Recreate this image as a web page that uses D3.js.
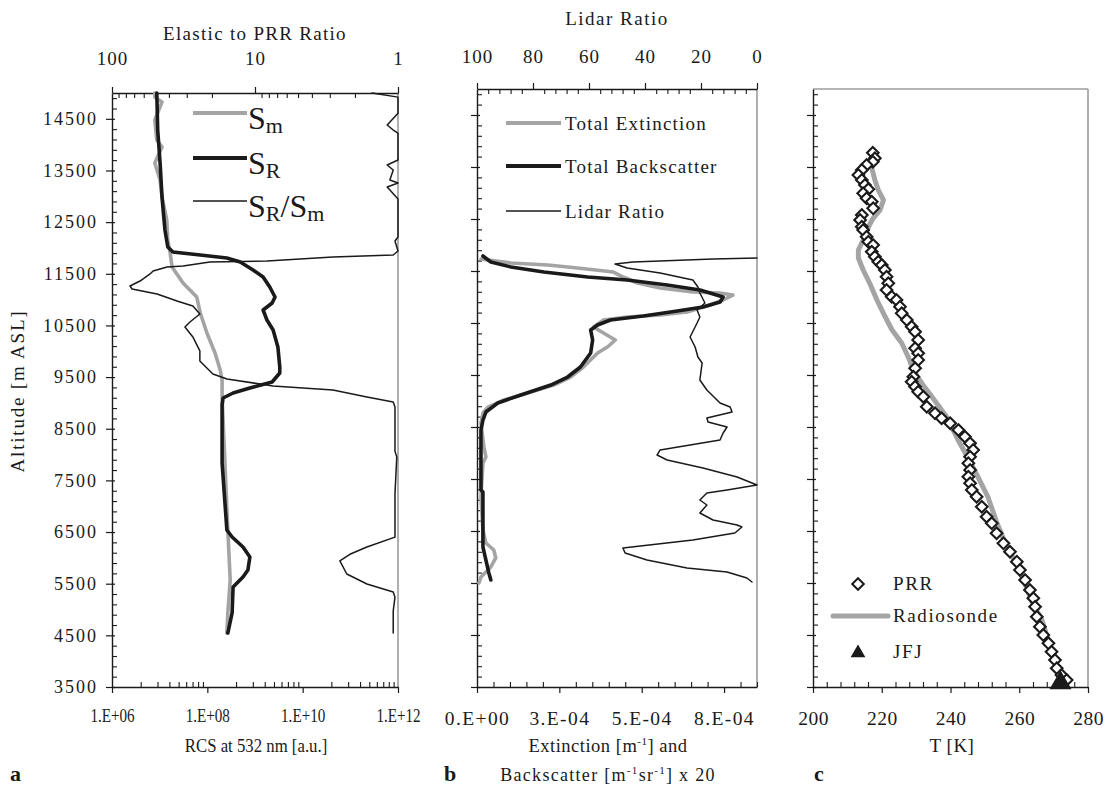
<!DOCTYPE html>
<html>
<head>
<meta charset="utf-8">
<script src="https://cdn.jsdelivr.net/npm/d3@7"></script>
<style>
  body { margin: 0; background: #fff; }
  svg { display: block; }
  svg text { font-family: 'Liberation Serif', 'Times New Roman', Times, serif !important; fill: #1a1a1a; }
</style>
</head>
<body>
<svg id="chart" width="1105" height="785"></svg>
<script>
// ---- donnees : [altitude m, valeur] ----

// panneau a : RCS a 532 nm (u.a.)
const smProfile = [[15000,7.9e6],[14920,7.9e6],[14825,1.12e7],[14477,7.9e6],[14090,8.7e6],[13954,1.12e7],[13645,7.9e6],[13316,1.02e7],[12986,1.12e7],[12541,1.41e7],[12154,1.48e7],[11902,1.66e7],[11631,1.82e7],[11321,3.09e7],[11050,6.0e7],[10741,7.1e7],[10353,9.8e7],[9966,1.45e8],[9637,1.86e8],[9444,2.04e8],[9114,2.04e8],[7837,2.34e8],[6540,2.69e8],[5572,3.02e8],[4933,2.69e8],[4545,2.57e8]];
const srProfile = [[15000,8.7e6],[14283,9.1e6],[13645,1.02e7],[12986,1.12e7],[12348,1.29e7],[12018,1.48e7],[11922,1.9e7],[11863,7.1e7],[11805,2.57e8],[11728,4.9e8],[11573,9.1e8],[11438,1.48e9],[11244,2.04e9],[11050,2.63e9],[10934,2.29e9],[10799,1.48e9],[10605,1.78e9],[10412,2.4e9],[10082,3.02e9],[9695,3.31e9],[9579,3.31e9],[9405,2.29e9],[9289,7.8e8],[9192,3.47e8],[9095,2.14e8],[8960,2.04e8],[7837,2.04e8],[6540,2.57e8],[6404,3.31e8],[6210,5.6e8],[6017,7.8e8],[5765,7.1e8],[5630,5.6e8],[5436,3.47e8],[4933,3.31e8],[4545,2.69e8]];
// rapport elastique / PRR (axe du haut)
const ratioProfile = [[15000,1.52],[14920,1.0],[14610,1.0],[14380,1.19],[14283,1.08],[14225,1.0],[13703,1.0],[13606,1.19],[13510,1.08],[13316,1.14],[13258,1.0],[13180,1.19],[12948,1.0],[12212,1.0],[12135,1.05],[11941,1.0],[11864,1.08],[11825,2.85],[11747,8.24],[11728,20.7],[11651,31.8],[11632,41.2],[11554,51.6],[11496,54.2],[11360,63.7],[11264,74.8],[11206,72.4],[11109,48.4],[10974,35.1],[10877,27.2],[10722,24.3],[10567,28.5],[10470,30.9],[10277,27.2],[10006,24.3],[9811,24.3],[9560,19.7],[9464,15.7],[9328,7.48],[9250,2.85],[9114,1.65],[9017,1.08],[8920,1.05],[8066,1.05],[7950,1.02],[7234,1.05],[6401,1.05],[6210,1.65],[6070,2.17],[5940,2.55],[5688,2.28],[5494,1.65],[5340,1.08],[5240,1.05],[4970,1.08],[4545,1.08]];

// panneau b : extinction et retrodiffusion x 20 (m-1), rapport lidar (axe du haut)
const extProfile = [[11730,1.2e-5],[11654,1.03e-4],[11615,2.15e-4],[11557,3.05e-4],[11480,4.14e-4],[11384,4.44e-4],[11269,4.87e-4],[11173,5.56e-4],[11096,6.56e-4],[11077,7.38e-4],[11038,7.77e-4],[10942,7.47e-4],[10846,7.07e-4],[10711,6.38e-4],[10654,5.56e-4],[10615,4.56e-4],[10557,3.84e-4],[10423,3.54e-4],[10307,3.84e-4],[10173,4.20e-4],[10038,3.96e-4],[9923,3.66e-4],[9654,3.23e-4],[9461,2.84e-4],[9307,2.33e-4],[9154,1.54e-4],[9019,8.2e-5],[8884,3.3e-5],[8769,1.8e-5],[8577,1.2e-5],[8115,2.1e-5],[7923,2.7e-5],[7808,1.8e-5],[7154,1.2e-5],[6519,1.8e-5],[6269,2.7e-5],[6135,5.1e-5],[5981,5.7e-5],[5808,4.2e-5],[5615,1.2e-5],[5500,6e-6]];
const backProfile = [[11788,1.8e-5],[11673,4.2e-5],[11577,1.03e-4],[11480,2.03e-4],[11384,3.36e-4],[11327,4.56e-4],[11230,5.77e-4],[11134,6.77e-4],[11000,7.47e-4],[10904,7.38e-4],[10807,6.86e-4],[10730,6.08e-4],[10634,5.05e-4],[10557,4.05e-4],[10461,3.66e-4],[10365,3.45e-4],[10173,3.51e-4],[9923,3.45e-4],[9654,3.14e-4],[9461,2.75e-4],[9307,2.24e-4],[9115,1.33e-4],[8961,6.3e-5],[8788,2.7e-5],[8634,1.8e-5],[8442,1.2e-5],[7288,1.2e-5],[7250,1.8e-5],[6192,1.8e-5],[5942,2.7e-5],[5692,3.6e-5],[5558,4.2e-5]];
const lidarRatio = [[11750,0],[11730,15.7],[11673,44.3],[11634,50.7],[11557,46.4],[11461,34.6],[11327,22.9],[11192,21.1],[11077,20.4],[10884,18.6],[10750,21.4],[10615,20.4],[10500,21.4],[10231,23.9],[10038,22.1],[9846,21.1],[9730,19.6],[9404,20.4],[9211,17.9],[8961,13.2],[8884,9.6],[8788,8.9],[8673,17.9],[8596,17.5],[8500,10.7],[8384,12.1],[8250,13.2],[8058,34.6],[7961,35.7],[7865,32.1],[7711,19.3],[7538,7.1],[7384,0],[7288,10.7],[7231,17.9],[7096,20.4],[7000,17.9],[6846,20.4],[6711,15.7],[6615,7.1],[6577,5.4],[6461,7.9],[6327,22.9],[6173,47.9],[6077,47.1],[5942,39.3],[5788,25.0],[5711,10.7],[5596,3.6],[5519,1.8]];

// panneau c : temperature (K)
const prrTemp = [[13775,217.4],[13667,218.0],[13601,217.4],[13538,215.6],[13442,214.2],[13346,213.2],[13250,214.2],[13153,215.1],[13071,216.1],[12994,214.6],[12898,215.6],[12832,217.1],[12705,217.5],[12577,214.2],[12480,213.7],[12352,214.2],[12288,214.6],[12159,215.6],[12063,216.1],[12000,217.5],[11871,217.1],[11775,218.0],[11679,219.0],[11615,220.0],[11519,220.9],[11390,221.4],[11263,221.9],[11134,221.4],[11005,222.9],[10942,224.3],[10813,225.3],[10686,225.8],[10557,227.3],[10429,228.7],[10332,229.7],[10173,230.6],[10013,229.7],[9917,230.6],[9788,230.6],[9629,229.7],[9467,229.2],[9371,228.7],[9275,229.7],[9179,230.6],[9083,232.1],[8890,233.1],[8763,235.5],[8667,237.4],[8571,239.9],[8442,242.3],[8313,244.2],[8186,245.7],[8058,246.6],[7929,245.7],[7802,245.2],[7673,245.7],[7544,245.2],[7417,245.7],[7288,246.2],[7160,247.6],[6967,249.1],[6775,250.5],[6648,252.0],[6456,253.4],[6263,255.4],[6102,257.3],[5910,259.3],[5750,260.2],[5558,261.7],[5365,263.1],[5206,264.1],[5044,264.6],[4852,265.1],[4660,266.0],[4500,267.0],[4340,268.5],[4179,269.4],[4019,270.4],[3860,270.9],[3731,272.3],[3635,273.8]];
const radiosonde = [[13480,217.1],[13250,218.0],[13057,219.0],[12865,220.5],[12673,219.5],[12519,217.5],[12346,216.1],[12096,214.6],[11904,213.2],[11750,213.2],[11519,214.6],[11250,216.6],[10942,218.6],[10634,220.9],[10365,223.0],[10115,225.8],[9846,227.7],[9596,229.2],[9442,230.6],[9307,232.0],[9134,234.0],[8692,238.9],[8250,242.2],[7904,245.1],[7538,248.0],[7154,250.9],[6673,253.4],[6269,255.9],[5808,259.6],[5404,262.2],[5135,263.7],[4788,266.6],[4404,268.4],[4019,270.4],[3692,271.9]];
const jfjStation = [[3580, 272.0]];

// graduations
const altMajor = d3.range(3500, 15000, 1000);
const altMinor = d3.range(3500, 15000, 200).filter(v => (v - 3500) % 1000 !== 0);
const rcsMajor = [1e6, 1e8, 1e10, 1e12];
const rcsLabels = ["1.E+06", "1.E+08", "1.E+10", "1.E+12"];
const ratioMajor = [100, 10, 1];
const extMajor = [0, 2.5e-4, 5e-4, 7.5e-4];
const extLabels = ["0.E+00", "3.E-04", "5.E-04", "8.E-04"];
const lrMajor = [100, 80, 60, 40, 20, 0];
const tempMajor = [200, 220, 240, 260, 280];

const svg = d3.select("#chart");
const GREY = "#a4a4a4", INK = "#1a1a1a", FRAME = "#9c9c9c";
const FONT = "'Liberation Serif', 'Times New Roman', Times, serif";

const pa = { l: 112, r: 398, t: 93, b: 687 };
const pb = { l: 477, r: 757, t: 89, b: 687 };
const pc = { l: 813, r: 1088, t: 89, b: 687 };

// Echelles
const yA = d3.scaleLinear().domain([3500, 15000]).range([pa.b, pa.t]);
const yB = d3.scaleLinear().domain([3500, 15000]).range([pb.b, pb.t]);
const yC = d3.scaleLinear().domain([3500, 15000]).range([pc.b, pc.t]);
const xRcs = d3.scaleLog().domain([1e6, 1e12]).range([pa.l, pa.r]);
const xRatio = d3.scaleLog().domain([100, 1]).range([pa.l, pa.r]);
const xExt = d3.scaleLinear().domain([0, 8.5e-4]).range([pb.l, pb.r]);
const xLr = d3.scaleLinear().domain([100, 0]).range([pb.l, pb.r]);
const xT = d3.scaleLinear().domain([200, 280]).range([pc.l, pc.r]);

function label(x, y, size, txt, spacing, anchor) {
  return svg.append("text").attr("x", x).attr("y", y)
    .attr("font-size", size).attr("letter-spacing", spacing || 0)
    .attr("text-anchor", anchor || "start")
    .style("font-family", FONT).text(txt);
}

function styleAxis(g, size, spacing) {
  g.attr("font-family", FONT).attr("font-size", size);
  g.select(".domain").attr("stroke", INK).attr("stroke-width", 1.4);
  g.selectAll(".tick line").attr("stroke", INK).attr("stroke-width", 1.2);
  g.selectAll(".tick text").attr("fill", INK).attr("letter-spacing", spacing)
    .style("font-family", FONT);
}

// axe vertical (altitude) avec graduations secondaires vers l'interieur
function altAxis(p, y, withLabels) {
  const g = svg.append("g").attr("transform", `translate(${p.l},0)`);
  g.call(d3.axisLeft(y).tickValues(altMajor).tickSize(6).tickSizeOuter(0).tickPadding(8)
    .tickFormat(withLabels ? d3.format("d") : ""));
  styleAxis(g, 18, 2);
  const m = svg.append("g").attr("transform", `translate(${p.l},0)`)
    .call(d3.axisLeft(y).tickValues(altMinor).tickSize(-5).tickFormat(""));
  m.select(".domain").remove();
  m.selectAll(".tick line").attr("stroke", INK).attr("stroke-width", 1.1);
  const c = svg.append("g").attr("transform", `translate(${p.l},0)`)
    .call(d3.axisLeft(y).tickValues(altMajor).tickSize(-3).tickFormat(""));
  c.select(".domain").remove();
  c.selectAll(".tick line").attr("stroke", INK).attr("stroke-width", 1.2);
}

function hAxis(axisFn, scale, ty, major, minor, labels, size, spacing, labelY) {
  const g = svg.append("g").attr("transform", `translate(0,${ty})`);
  g.call(axisFn(scale).tickValues(major).tickSize(6).tickSizeOuter(0)
    .tickFormat(labels ? (d, i) => labels[i] : ""));
  styleAxis(g, size, spacing);
  g.selectAll(".tick text").attr("y", labelY).attr("dy", 0);
  const m = svg.append("g").attr("transform", `translate(0,${ty})`)
    .call(axisFn(scale).tickValues(minor).tickSize(-5).tickFormat(""));
  m.select(".domain").remove();
  m.selectAll(".tick line").attr("stroke", INK).attr("stroke-width", 1.1);
  return g;
}

function frameLine(x1, y1, x2, y2) {
  svg.append("line").attr("x1", x1).attr("y1", y1).attr("x2", x2).attr("y2", y2)
    .attr("stroke", FRAME).attr("stroke-width", 1.6);
}

function profile(data, x, y, color, width) {
  svg.append("path").datum(data)
    .attr("fill", "none").attr("stroke", color).attr("stroke-width", width)
    .attr("stroke-linejoin", "round").attr("stroke-linecap", "round")
    .attr("d", d3.line().x(d => x(d[1])).y(d => y(d[0])));
}

// ---------- panneau a ----------
frameLine(pa.r, pa.t, pa.r, pa.b);
altAxis(pa, yA, true);
const rcsMinor = [];
[6, 8, 10].forEach(e => d3.range(2, 10).forEach(k => rcsMinor.push(k * k * Math.pow(10, e))));
const rcsAxis = hAxis(d3.axisBottom, xRcs, pa.b, rcsMajor, rcsMinor, rcsLabels, 18, 0, 35);
rcsAxis.selectAll(".tick text").attr("transform", "scale(0.84,1)");
const ratioMinor = [];
[1, 10].forEach(e => d3.range(2, 10).forEach(k => ratioMinor.push(k * e)));
hAxis(d3.axisTop, xRatio, pa.t, ratioMajor, ratioMinor, ratioMajor.map(String), 19, 1, -28);

profile(smProfile, xRcs, yA, GREY, 3.6);
profile(srProfile, xRcs, yA, INK, 3.6);
profile(ratioProfile, xRatio, yA, INK, 1.5);

// legende a
const legA = [
  { y: 113, color: GREY, w: 4, sub: "m" },
  { y: 158, color: INK, w: 4, sub: "R" },
  { y: 201, color: INK, w: 1.5, sub: "R", tail: "m" }
];
legA.forEach(d => {
  svg.append("line").attr("x1", 193).attr("x2", 247).attr("y1", d.y).attr("y2", d.y)
    .attr("stroke", d.color).attr("stroke-width", d.w);
  const t = label(248, d.y + 16, 32, "");
  t.append("tspan").text("S");
  t.append("tspan").attr("font-size", 22).attr("dy", 4).text(d.sub);
  if (d.tail) {
    t.append("tspan").attr("dy", -4).text("/S");
    t.append("tspan").attr("font-size", 22).attr("dy", 4).text(d.tail);
  }
});

label(255, 40, 19, "Elastic to PRR Ratio", 1.3, "middle");
label(0, 0, 19.5, "RCS at 532 nm [a.u.]", 0, "middle").attr("transform", "translate(256,752) scale(0.86,1)");
label(0, 0, 19, "Altitude [m ASL]", 1.8, "middle").attr("transform", "translate(24,391) rotate(-90)");
label(10, 781, 22, "a").attr("font-weight", "bold");

// ---------- panneau b ----------
frameLine(pb.r, pb.t, pb.r, pb.b);
altAxis(pb, yB, false);
hAxis(d3.axisBottom, xExt, pb.b, extMajor, d3.range(0, 8.6e-4, 5e-5).filter(v => Math.round(v / 5e-5) % 5 !== 0), extLabels, 19.5, 1.4, 38);
hAxis(d3.axisTop, xLr, pb.t, lrMajor, d3.range(4, 100, 4).filter(v => v % 20 !== 0), lrMajor.map(String), 19, 1, -26);

profile(extProfile, xExt, yB, GREY, 3.6);
profile(backProfile, xExt, yB, INK, 3.6);
profile(lidarRatio, xLr, yB, INK, 1.5);

const legB = [
  { y: 123, color: GREY, w: 4, label: "Total Extinction" },
  { y: 166, color: INK, w: 4, label: "Total Backscatter" },
  { y: 211, color: INK, w: 1.5, label: "Lidar Ratio" }
];
legB.forEach(d => {
  svg.append("line").attr("x1", 506).attr("x2", 561).attr("y1", d.y).attr("y2", d.y)
    .attr("stroke", d.color).attr("stroke-width", d.w);
  label(565, d.y + 7, 19, d.label, 1.2);
});

label(617, 25, 19, "Lidar Ratio", 1.5, "middle");
const extTitle = label(608, 752, 18.5, "", 0.5, "middle");
extTitle.append("tspan").text("Extinction [m");
extTitle.append("tspan").attr("font-size", 11).attr("dy", -7).text("-1");
extTitle.append("tspan").attr("dy", 7).text("] and");
const bsTitle = label(608, 781, 18, "", 1.3, "middle");
bsTitle.append("tspan").text("Backscatter [m");
bsTitle.append("tspan").attr("font-size", 11).attr("dy", -7).text("-1");
bsTitle.append("tspan").attr("dy", 7).text("sr");
bsTitle.append("tspan").attr("font-size", 11).attr("dy", -7).text("-1");
bsTitle.append("tspan").attr("dy", 7).text("] x 20");
label(444, 781, 22, "b").attr("font-weight", "bold");

// ---------- panneau c ----------
frameLine(pc.l, pc.t, pc.r, pc.t);
frameLine(pc.r, pc.t, pc.r, pc.b);
altAxis(pc, yC, false);
hAxis(d3.axisBottom, xT, pc.b, tempMajor, d3.range(204, 280, 4).filter(v => v % 20 !== 0), tempMajor.map(String), 19.5, 0.5, 38);

profile(radiosonde, xT, yC, GREY, 5);

const diamond = "M0,-5.8L5.8,0L0,5.8L-5.8,0Z";
svg.append("g").selectAll("path").data(prrTemp).join("path")
  .attr("d", diamond)
  .attr("transform", d => `translate(${xT(d[1])},${yC(d[0])})`)
  .attr("fill", "#fff").attr("stroke", INK).attr("stroke-width", 2.1);

svg.append("g").selectAll("path").data(jfjStation).join("path")
  .attr("d", d3.symbol(d3.symbolTriangle, 210))
  .attr("transform", d => `translate(${xT(d[1])},${yC(d[0])})`)
  .attr("fill", INK);

// legende c
svg.append("path").attr("d", diamond).attr("transform", "translate(858,584)")
  .attr("fill", "#fff").attr("stroke", INK).attr("stroke-width", 2);
svg.append("line").attr("x1", 833).attr("x2", 888).attr("y1", 616).attr("y2", 616)
  .attr("stroke", GREY).attr("stroke-width", 5).attr("stroke-linecap", "round");
svg.append("path").attr("d", d3.symbol(d3.symbolTriangle, 95)).attr("transform", "translate(858,653)").attr("fill", INK);
[["PRR", 590], ["Radiosonde", 622], ["JFJ", 658]].forEach(([t, y]) => label(893, y, 19, t, 1.6));

label(952, 752, 19, "T [K]", 0.5, "middle");
label(814, 781, 22, "c").attr("font-weight", "bold");
</script>
</body>
</html>
